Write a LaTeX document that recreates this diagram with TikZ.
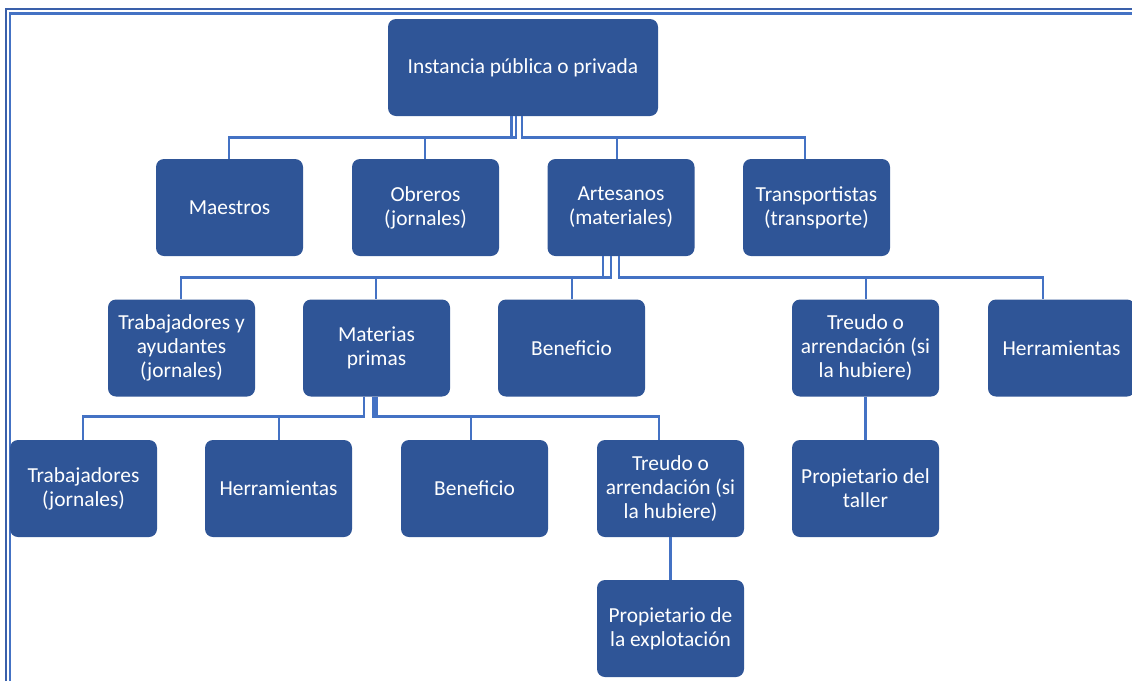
\documentclass[tikz,border=0pt]{standalone}
\usepackage{fontspec}
\setmainfont{Carlito}
\definecolor{boxblue}{RGB}{47,85,151}
\definecolor{lineblue}{RGB}{68,114,196}
\definecolor{frameblue}{RGB}{58,96,170}
\begin{document}
\begin{tikzpicture}[x=1pt,y=-1pt,
  box/.style={rectangle, rounded corners=8pt, fill=boxblue, minimum width=147pt, minimum height=97pt,
    text=white, align=center, font=\fontsize{21.4}{24}\selectfont, inner sep=0pt},
  conn/.style={draw=lineblue, line width=2.8pt},
  frame/.style={draw=frameblue, line width=2.2pt}]
\useasboundingbox (0,0) rectangle (1132,681);
\clip (0,0) rectangle (1132,681);
% frame
\draw[frame] (6,681) -- (6,9) -- (1132,9);
\draw[frame, draw=lineblue] (10,681) -- (10,13.5) -- (1132,13.5);
% level 0
\node[box, minimum width=270pt] (top) at (523,67.5) {Instancia pública o privada};
% level 1
\node[box] (mae) at (229.5,207.5) {Maestros};
\node[box] (obr) at (425.5,207.5) {Obreros\\(jornales)};
\node[box] (art) at (621,207.5) {Artesanos\\(materiales)};
\node[box] (tra) at (816.5,207.5) {Transportistas\\(transporte)};
% level 2
\node[box] (tya) at (181.5,348) {Trabajadores y\\ayudantes\\(jornales)};
\node[box] (mat) at (376.5,348) {Materias\\primas};
\node[box] (ben) at (571.5,348) {Beneficio};
\node[box] (tre) at (865.5,348) {Treudo o\\arrendación (si\\la hubiere)};
\node[box] (her) at (1061.5,348) {Herramientas};
% level 3
\node[box] (tj) at (83.5,488.5) {Trabajadores\\(jornales)};
\node[box] (hm) at (278.5,488.5) {Herramientas};
\node[box] (bn) at (474.5,488.5) {Beneficio};
\node[box] (tr) at (670.5,488.5) {Treudo o\\arrendación (si\\la hubiere)};
\node[box] (pt) at (865.5,488.5) {Propietario del\\taller};
% level 4
\node[box] (pe) at (670.5,628.5) {Propietario de\\la explotación};
% connectors level 0 -> 1
\draw[conn] ([xshift=-11.5pt]top.south) -- ++(0,21) -| ([xshift=-0.5pt]mae.north);
\draw[conn] ([xshift=-7pt]top.south) -- ++(0,21) -| ([xshift=-0.5pt]obr.north);
\draw[conn] ([xshift=-1pt]top.south) -- ++(0,21) -| ([xshift=-4pt]art.north);
\draw[conn] ([xshift=-1pt]top.south) -- ++(0,21) -| ([xshift=-11.5pt]tra.north);
% level 1 -> 2
\draw[conn] ([xshift=-18pt]art.south) -- ++(0,21) -| ([xshift=-0.5pt]tya.north);
\draw[conn] ([xshift=-18pt]art.south) -- ++(0,21) -| ([xshift=-0.5pt]mat.north);
\draw[conn] ([xshift=-10pt]art.south) -- ++(0,21) -| ([xshift=0.5pt]ben.north);
\draw[conn] ([xshift=-2pt]art.south) -- ++(0,21) -| ([xshift=0.5pt]tre.north);
\draw[conn] ([xshift=-2pt]art.south) -- ++(0,21) -| ([xshift=-18.5pt]her.north);
% level 2 -> 3
\draw[conn] ([xshift=-12.5pt]mat.south) -- ++(0,20) -| ([xshift=-0.5pt]tj.north);
\draw[conn] ([xshift=-12.5pt]mat.south) -- ++(0,20) -| ([xshift=0.5pt]hm.north);
\draw[conn] ([xshift=-3pt]mat.south) -- ++(0,20) -| ([xshift=-3.5pt]bn.north);
\draw[conn] ([xshift=0pt]mat.south) -- ++(0,20) -| ([xshift=-11.5pt]tr.north);
% vertical single connectors
\draw[conn] (tre.south) -- (pt.north);
\draw[conn] (tr.south) -- (pe.north);
\end{tikzpicture}
\end{document}
